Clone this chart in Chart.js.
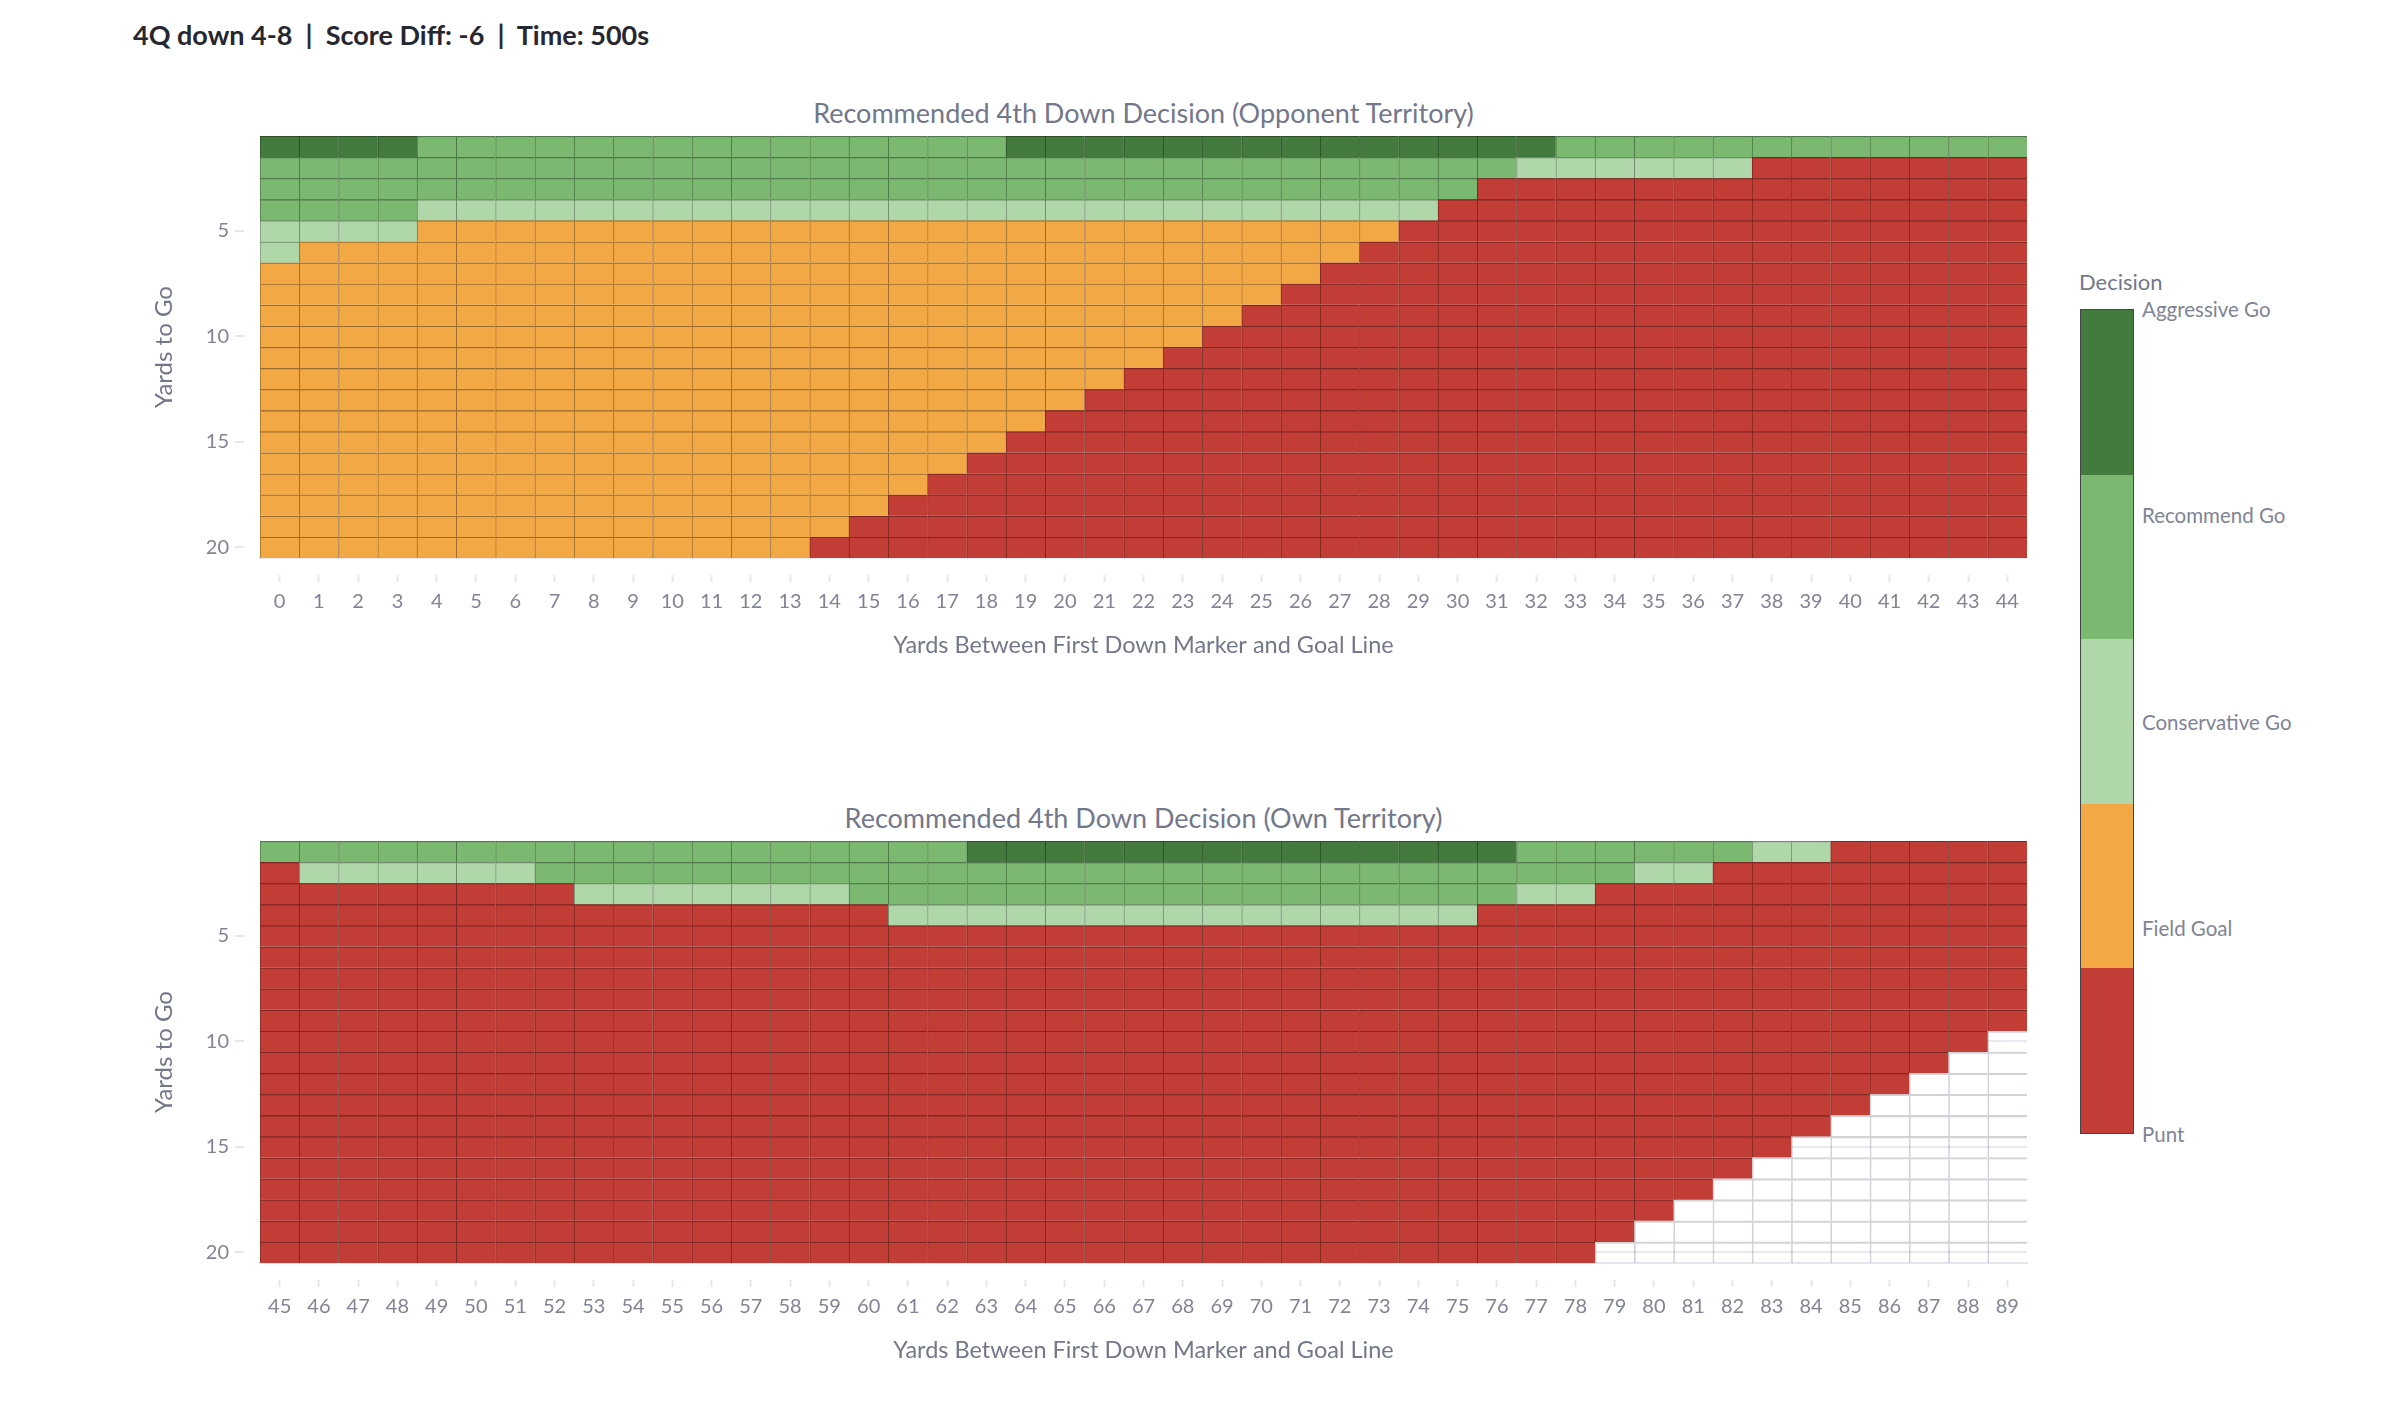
<!DOCTYPE html>
<html lang="en">
<head>
    <meta charset="UTF-8">
    <title>4th Down Decision</title>
    <script src="https://cdn.jsdelivr.net/npm/chart.js"></script>
    <style>
        body {
            margin: 0;
            width: 2402px;
            height: 1404px;
            background: #fff;
            position: relative;
            font-family: Lato, "Noto Sans", sans-serif;
            overflow: hidden;
        }

        .main-title {
            position: absolute;
            left: 133px;
            top: 17px;
            line-height: 36px;
            font-size: 27px;
            font-weight: 700;
            color: #262730;
            white-space: nowrap;
        }

        .sub-title {
            position: absolute;
            left: 260px;
            width: 1767px;
            line-height: 32px;
            text-align: center;
            font-size: 27px;
            color: #73778a;
            white-space: nowrap;
        }

        .chart-box {
            position: absolute;
            left: 0;
            width: 2060px;
            height: 534px;
        }

        .colorbar-title {
            position: absolute;
            left: 2079px;
            top: 268px;
            line-height: 28px;
            font-size: 22px;
            color: #73778a;
        }

        .colorbar {
            position: absolute;
            left: 2080px;
            top: 309px;
            width: 54px;
            height: 825px;
            border: 1.5px solid #454545;
            box-sizing: border-box;
            display: flex;
            flex-direction: column;
        }

        .colorbar div {
            flex: 1;
        }

        .colorbar-label {
            position: absolute;
            left: 2142px;
            line-height: 24px;
            font-size: 20.5px;
            color: #808495;
            white-space: nowrap;
        }
    </style>
</head>
<body>
    <div class="main-title">4Q down 4-8 &nbsp;|&nbsp; Score Diff: -6 &nbsp;|&nbsp; Time: 500s</div>

    <div class="sub-title" style="top: 97px;">Recommended 4th Down Decision (Opponent Territory)</div>
    <div class="chart-box" style="top: 136px;"><canvas id="opponentChart" width="2060" height="534"></canvas></div>

    <div class="sub-title" style="top: 802px;">Recommended 4th Down Decision (Own Territory)</div>
    <div class="chart-box" style="top: 841px;"><canvas id="ownChart" width="2060" height="534"></canvas></div>

    <div class="colorbar-title">Decision</div>
    <div class="colorbar" id="colorbar"></div>
    <div id="colorbarLabels"></div>

    <script>
        // rows = yards to go, columns = yards between first down marker and goal line
        var yardsToGo = [1, 2, 3, 4, 5, 6, 7, 8, 9, 10, 11, 12, 13, 14, 15, 16, 17, 18, 19, 20];
        var yTickValues = [5, 10, 15, 20];

        var opponentYardLines = [0, 1, 2, 3, 4, 5, 6, 7, 8, 9, 10, 11, 12, 13, 14, 15, 16, 17, 18, 19, 20, 21,
            22, 23, 24, 25, 26, 27, 28, 29, 30, 31, 32, 33, 34, 35, 36, 37, 38, 39, 40, 41, 42, 43, 44];
        var ownYardLines = [45, 46, 47, 48, 49, 50, 51, 52, 53, 54, 55, 56, 57, 58, 59, 60, 61, 62, 63, 64, 65, 66,
            67, 68, 69, 70, 71, 72, 73, 74, 75, 76, 77, 78, 79, 80, 81, 82, 83, 84, 85, 86, 87, 88, 89];

        // decision codes: 0 Punt, 1 Field Goal, 2 Conservative Go, 3 Recommend Go, 4 Aggressive Go
        var decisionLabels = ['Punt', 'Field Goal', 'Conservative Go', 'Recommend Go', 'Aggressive Go'];
        var decisionColors = ['#c23d36', '#f2a844', '#b0d7aa', '#7bb870', '#437a3e'];

        // one string per yards-to-go row, one digit per yard line (grouped by 5), '.' = no value
        var opponentDecisions = [
            '44443 33333 33333 33334 44444 44444 44433 33333 33333',
            '33333 33333 33333 33333 33333 33333 33222 22200 00000',
            '33333 33333 33333 33333 33333 33333 30000 00000 00000',
            '33332 22222 22222 22222 22222 22222 00000 00000 00000',
            '22221 11111 11111 11111 11111 11110 00000 00000 00000',
            '21111 11111 11111 11111 11111 11100 00000 00000 00000',
            '11111 11111 11111 11111 11111 11000 00000 00000 00000',
            '11111 11111 11111 11111 11111 10000 00000 00000 00000',
            '11111 11111 11111 11111 11111 00000 00000 00000 00000',
            '11111 11111 11111 11111 11110 00000 00000 00000 00000',
            '11111 11111 11111 11111 11100 00000 00000 00000 00000',
            '11111 11111 11111 11111 11000 00000 00000 00000 00000',
            '11111 11111 11111 11111 10000 00000 00000 00000 00000',
            '11111 11111 11111 11111 00000 00000 00000 00000 00000',
            '11111 11111 11111 11110 00000 00000 00000 00000 00000',
            '11111 11111 11111 11100 00000 00000 00000 00000 00000',
            '11111 11111 11111 11000 00000 00000 00000 00000 00000',
            '11111 11111 11111 10000 00000 00000 00000 00000 00000',
            '11111 11111 11111 00000 00000 00000 00000 00000 00000',
            '11111 11111 11110 00000 00000 00000 00000 00000 00000'
        ];

        var ownDecisions = [
            '33333 33333 33333 33344 44444 44444 44333 33322 00000',
            '02222 22333 33333 33333 33333 33333 33333 22000 00000',
            '00000 00022 22222 33333 33333 33333 33220 00000 00000',
            '00000 00000 00000 02222 22222 22222 20000 00000 00000',
            '00000 00000 00000 00000 00000 00000 00000 00000 00000',
            '00000 00000 00000 00000 00000 00000 00000 00000 00000',
            '00000 00000 00000 00000 00000 00000 00000 00000 00000',
            '00000 00000 00000 00000 00000 00000 00000 00000 00000',
            '00000 00000 00000 00000 00000 00000 00000 00000 00000',
            '00000 00000 00000 00000 00000 00000 00000 00000 0000.',
            '00000 00000 00000 00000 00000 00000 00000 00000 000..',
            '00000 00000 00000 00000 00000 00000 00000 00000 00...',
            '00000 00000 00000 00000 00000 00000 00000 00000 0....',
            '00000 00000 00000 00000 00000 00000 00000 00000 .....',
            '00000 00000 00000 00000 00000 00000 00000 0000. .....',
            '00000 00000 00000 00000 00000 00000 00000 000.. .....',
            '00000 00000 00000 00000 00000 00000 00000 00... .....',
            '00000 00000 00000 00000 00000 00000 00000 0.... .....',
            '00000 00000 00000 00000 00000 00000 00000 ..... .....',
            '00000 00000 00000 00000 00000 00000 0000. ..... .....'
        ];

        var FONT = 'Lato, "Noto Sans", sans-serif';
        var TICK_COLOR = '#808495';
        var TITLE_COLOR = '#73778a';

        // cell outlines are a darker shade of the cell colour
        function darken(hex, k) {
            var n = parseInt(hex.slice(1), 16);
            var r = Math.round(((n >> 16) & 255) * k);
            var g = Math.round(((n >> 8) & 255) * k);
            var b = Math.round((n & 255) * k);
            return 'rgb(' + r + ',' + g + ',' + b + ')';
        }
        var decisionBorders = decisionColors.map(function (c) { return darken(c, 0.64); });

        function parseRows(rows) {
            return rows.map(function (row) {
                return row.replace(/ /g, '').split('').map(function (ch) {
                    return ch === '.' ? null : Number(ch);
                });
            });
        }

        function makeDatasets(grid, yardLines) {
            return yardsToGo.map(function (ytg, r) {
                return {
                    label: 'Yards to go ' + ytg,
                    data: yardLines.map(function () { return [ytg - 0.5, ytg + 0.5]; }),
                    backgroundColor: grid[r].map(function (code) {
                        return code === null ? 'rgba(0,0,0,0)' : decisionColors[code];
                    }),
                    borderColor: grid[r].map(function (code) {
                        return code === null ? 'rgba(80,86,100,0.26)' : decisionBorders[code];
                    }),
                    borderWidth: { top: 1.5, left: 1, right: 0, bottom: 0 },
                    borderSkipped: false,
                    grouped: false,
                    barPercentage: 1,
                    categoryPercentage: 1
                };
            });
        }

        function makeChart(canvasId, rows, yardLines) {
            var grid = parseRows(rows);
            return new Chart(document.getElementById(canvasId).getContext('2d'), {
                type: 'bar',
                data: {
                    labels: yardLines.map(String),
                    datasets: makeDatasets(grid, yardLines)
                },
                options: {
                    responsive: false,
                    animation: false,
                    layout: { padding: { top: 0, right: 33, bottom: 0, left: 0 } },
                    plugins: {
                        legend: { display: false },
                        tooltip: { enabled: false }
                    },
                    scales: {
                        x: {
                            type: 'category',
                            offset: true,
                            afterFit: function (scale) {
                                scale.height = 112;
                                scale.paddingLeft = 0;
                                scale.paddingRight = 0;
                            },
                            ticks: {
                                color: TICK_COLOR,
                                font: { family: FONT, size: 20 },
                                padding: 8,
                                maxRotation: 0,
                                autoSkip: false
                            },
                            grid: {
                                offset: false,
                                drawOnChartArea: false,
                                tickLength: 24,
                                tickWidth: 2,
                                tickColor: '#e3e7ee',
                                tickBorderDash: [8, 16],
                                tickBorderDashOffset: 8
                            },
                            border: { display: true, color: '#e3e7ee', width: 2 },
                            title: {
                                display: true,
                                text: 'Yards Between First Down Marker and Goal Line',
                                color: TITLE_COLOR,
                                font: { family: FONT, size: 23.5 },
                                padding: { top: 0, bottom: 10 }
                            }
                        },
                        y: {
                            type: 'linear',
                            reverse: true,
                            min: 0.5,
                            max: 20.5,
                            afterBuildTicks: function (scale) {
                                scale.ticks = yTickValues.map(function (v) { return { value: v }; });
                            },
                            afterFit: function (scale) {
                                scale.width = 260;
                                scale.paddingTop = 0;
                                scale.paddingBottom = 0;
                            },
                            ticks: {
                                color: TICK_COLOR,
                                font: { family: FONT, size: 20 },
                                padding: 6
                            },
                            grid: {
                                color: '#e6eaf1',
                                lineWidth: 2,
                                tickLength: 25,
                                tickWidth: 2,
                                tickColor: '#e3e7ee',
                                tickBorderDash: [9, 16]
                            },
                            border: { display: false },
                            title: {
                                display: true,
                                text: 'Yards to Go',
                                color: TITLE_COLOR,
                                font: { family: FONT, size: 24 },
                                padding: { top: 150, bottom: 0 }
                            }
                        }
                    }
                }
            });
        }

        var opponentChart = makeChart('opponentChart', opponentDecisions, opponentYardLines);
        var ownChart = makeChart('ownChart', ownDecisions, ownYardLines);

        // colour bar legend: top band is the highest code
        var colorbar = document.getElementById('colorbar');
        var labelBox = document.getElementById('colorbarLabels');
        for (var i = decisionColors.length - 1; i >= 0; i--) {
            var band = document.createElement('div');
            band.style.background = decisionColors[i];
            colorbar.appendChild(band);

            var lab = document.createElement('div');
            lab.className = 'colorbar-label';
            lab.textContent = decisionLabels[i];
            // labels sit at evenly spaced values from top edge to bottom edge
            lab.style.top = (309 + (decisionColors.length - 1 - i) * 825 / 4 - 12) + 'px';
            labelBox.appendChild(lab);
        }
    </script>
</body>
</html>
